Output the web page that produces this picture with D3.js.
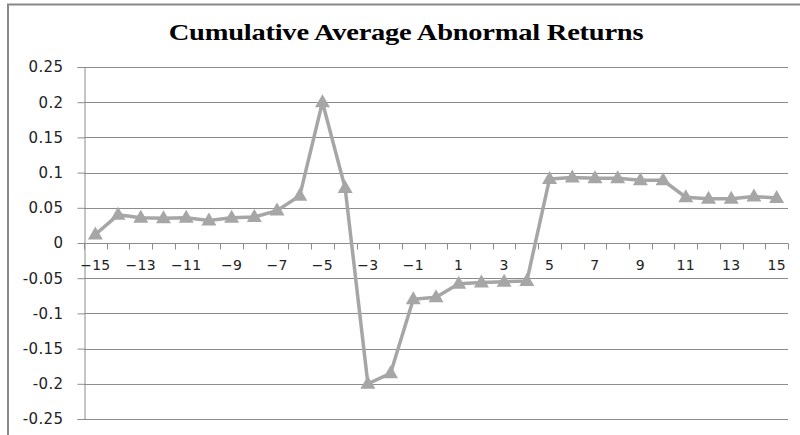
<!DOCTYPE html>
<html>
<head>
<meta charset="utf-8">
<script src="https://cdn.jsdelivr.net/npm/d3@7"></script>
<style>
  body { margin: 0; background: #fff; }
  svg { display: block; }
</style>
</head>
<body>
<div id="chart"></div>
<script>
const width = 800;
const height = 435;

// data
const days = d3.range(-15, 16);
const caar = [
    0.012, 0.040, 0.036, 0.035, 0.036, 0.032, 0.036, 0.037, 0.046, 0.067,
    0.200, 0.078, -0.200, -0.185, -0.080, -0.077, -0.058, -0.056, -0.055, -0.054,
    0.091, 0.093, 0.092, 0.092, 0.089, 0.089, 0.065, 0.063, 0.063, 0.066,
    0.064
];
const yTicks = [0.25, 0.2, 0.15, 0.1, 0.05, 0, -0.05, -0.1, -0.15, -0.2, -0.25];
const xLabelDays = [-15, -13, -11, -9, -7, -5, -3, -1, 1, 3, 5, 7, 9, 11, 13, 15];

const plotLeft = 84, plotRight = 788, plotTop = 67, plotBottom = 419;

const svg = d3.select("#chart")
    .append("svg")
    .attr("width", width)
    .attr("height", height);

// chart frame
svg.append("path")
    .attr("d", `M8,${height} V4.5 H${width}`)
    .attr("fill", "none")
    .attr("stroke", "#888")
    .attr("stroke-width", 2);

// title (the picture is stretched sideways, so the text is too)
svg.append("text")
    .attr("transform", "translate(406,40) scale(1.24,1)")
    .attr("text-anchor", "middle")
    .style("font-family", "'Liberation Serif', serif")
    .style("font-weight", "bold")
    .style("font-size", "23px")
    .style("letter-spacing", "-0.2px")
    .attr("fill", "#000")
    .text("Cumulative Average Abnormal Returns");

// scales
const x = d3.scaleBand()
    .domain(days)
    .range([plotLeft, plotRight]);

const y = d3.scaleLinear()
    .domain([-0.25, 0.25])
    .range([plotBottom, plotTop]);

// gridlines
svg.append("g")
    .selectAll("line")
    .data(yTicks)
    .enter()
    .append("line")
    .attr("x1", plotLeft)
    .attr("x2", plotRight)
    .attr("y1", d => Math.round(y(d)) + 0.5)
    .attr("y2", d => Math.round(y(d)) + 0.5)
    .attr("stroke", "#8c8c8c")
    .attr("stroke-width", 1);

// y axis
const yAxis = svg.append("g")
    .attr("transform", `translate(${plotLeft + 0.5},0)`)
    .call(d3.axisLeft(y)
        .tickValues(yTicks)
        .tickSize(7)
        .tickPadding(14)
        .tickFormat(d => d === 0 ? "0" : String(+d.toFixed(2))));

yAxis.select(".domain").attr("stroke", "#8c8c8c");
yAxis.selectAll(".tick line").attr("stroke", "#8c8c8c");
yAxis.selectAll(".tick text")
    .style("font-family", "'DejaVu Sans', Verdana, sans-serif")
    .style("font-size", "15px")
    .style("letter-spacing", "0.4px")
    .attr("fill", "#222");

// x axis on the zero line
const xAxis = svg.append("g")
    .attr("transform", `translate(0,${Math.round(y(0)) + 0.5})`)
    .call(d3.axisBottom(x)
        .tickSize(0)
        .tickPadding(17)
        .tickFormat(d => xLabelDays.includes(d) ? String(d).replace("-", "\u2212") : ""));

xAxis.select(".domain").remove();
xAxis.selectAll(".tick text")
    .style("font-family", "'DejaVu Sans', Verdana, sans-serif")
    .style("font-size", "14px")
    .style("letter-spacing", "0.3px")
    .attr("fill", "#222");

// tick marks at category boundaries
xAxis.append("g")
    .selectAll("line")
    .data(d3.range(days.length + 1))
    .enter()
    .append("line")
    .attr("x1", i => Math.round(plotLeft + i * x.step()) + 0.5)
    .attr("x2", i => Math.round(plotLeft + i * x.step()) + 0.5)
    .attr("y1", 0)
    .attr("y2", 6)
    .attr("stroke", "#8c8c8c");

// line
const pts = days.map((d, i) => ({ day: d, v: caar[i] }));

const line = d3.line()
    .x(d => x(d.day) + x.bandwidth() / 2)
    .y(d => y(d.v));

svg.append("path")
    .datum(pts)
    .attr("d", line)
    .attr("fill", "none")
    .attr("stroke", "#a6a6a6")
    .attr("stroke-width", 3.5)
    .attr("stroke-linejoin", "round");

// triangle markers
svg.append("g")
    .selectAll("path")
    .data(pts)
    .enter()
    .append("path")
    .attr("transform", d => `translate(${x(d.day) + x.bandwidth() / 2},${y(d.v)})`)
    .attr("d", "M0,-8 L7.5,5 L-7.5,5 Z")
    .attr("fill", "#a6a6a6");
</script>
</body>
</html>
